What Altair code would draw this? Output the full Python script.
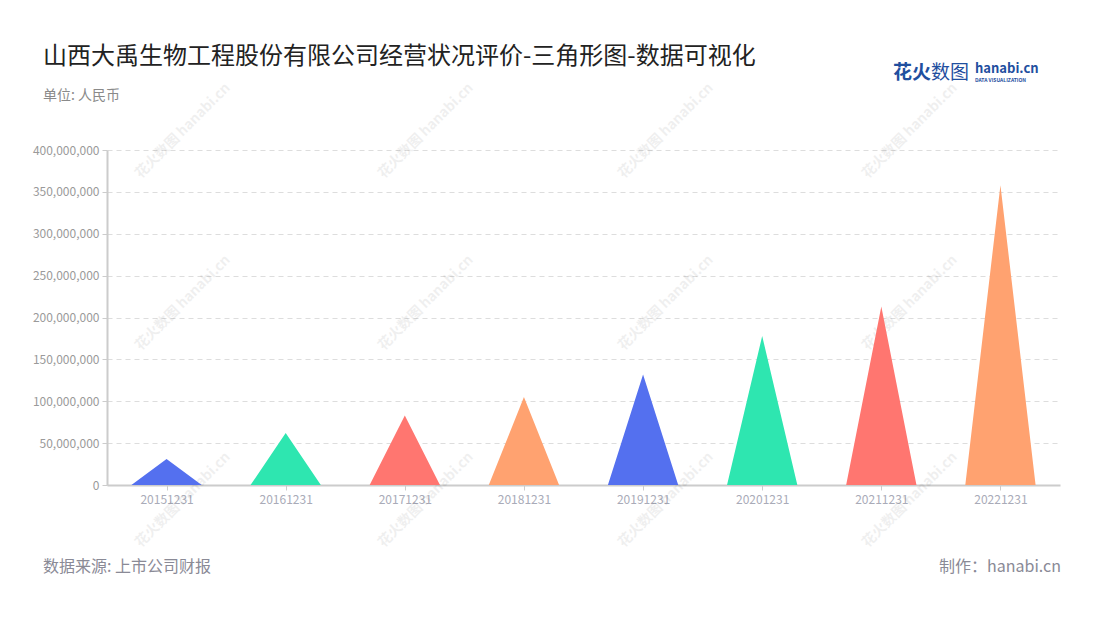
import altair as alt
import pandas as pd

# ---- data ----
dates = ["20151231", "20161231", "20171231", "20181231",
         "20191231", "20201231", "20211231", "20221231"]
values = [31_000_000, 62_000_000, 83_000_000, 105_000_000,
          132_000_000, 178_000_000, 213_000_000, 358_000_000]
palette = ["#5470ef", "#2ee6b0", "#ff7670", "#ffa270"]

title_text = "山西大禹生物工程股份有限公司经营状况评价-三角形图-数据可视化"
subtitle_text = "单位: 人民币"
source_text = "数据来源: 上市公司财报"
maker_text = "制作：hanabi.cn"

FONT = "Noto Sans CJK SC"
HALF = 0.295  # half base width of triangle, in category units

rows = []
for i, (d, v) in enumerate(zip(dates, values)):
    c = i + 0.5
    rows.append({"cat": d, "x": c - HALF, "y": 0})
    rows.append({"cat": d, "x": c, "y": v})
    rows.append({"cat": d, "x": c + HALF, "y": 0})
tri = pd.DataFrame(rows)

colors = [palette[i % len(palette)] for i in range(len(dates))]
label_expr = "[" + ",".join(f"'{d}'" for d in dates) + "][floor(datum.value)]"

W, H = 953, 335

triangles = alt.Chart(tri).mark_area(opacity=1, strokeWidth=0).encode(
    x=alt.X("x:Q",
            scale=alt.Scale(domain=[0, len(dates)], nice=False, zero=False),
            axis=alt.Axis(values=[i + 0.5 for i in range(len(dates))],
                          labelExpr=label_expr, title=None, grid=False,
                          domainColor="#cccccc", domainWidth=2,
                          tickColor="#cccccc", tickSize=5, tickWidth=1,
                          labelColor="#a9abb8", labelFontSize=12, labelFont=FONT,
                          labelPadding=4)),
    y=alt.Y("y:Q",
            scale=alt.Scale(domain=[0, 400_000_000], nice=False),
            axis=alt.Axis(values=list(range(0, 400_000_001, 50_000_000)),
                          format=",.0f", title=None, grid=True,
                          gridColor="#dddddd", gridDash=[5, 4], gridWidth=1,
                          domainColor="#cccccc", domainWidth=2,
                          tickColor="#cccccc", tickSize=5, tickWidth=1,
                          labelColor="#9a9a9a", labelFontSize=12, labelFont=FONT,
                          labelPadding=3)),
    color=alt.Color("cat:N", scale=alt.Scale(domain=dates, range=colors), legend=None),
    detail="cat:N",
)

one = pd.DataFrame({"a": [0]})

def txt(text, x, y, size, color, align="left", weight="normal", angle=0, opacity=1.0, baseline="middle"):
    kw = dict(text=text, align=align, baseline=baseline, fontSize=size, font=FONT,
              color=color, fontWeight=weight, opacity=opacity)
    if angle:
        kw["angle"] = angle
    return alt.Chart(one).mark_text(**kw).encode(x=alt.value(x), y=alt.value(y))

OX, OY = 107, 150  # plot origin on page
layers = []

# watermarks
wm_cols = [183, 426, 666, 910]
wm_rows = [131, 303, 500]
for cx in wm_cols:
    for cy in wm_rows:
        layers.append(txt("花火数图 hanabi.cn", cx - OX, cy - OY, 14, "#000000",
                          align="center", weight="bold", angle=315, opacity=0.06))

layers.append(triangles)

layers.append(txt(title_text, 43 - OX, 57 - OY, 24, "#222222"))
layers.append(txt(subtitle_text, 43 - OX, 96 - OY, 14, "#8a8a8a"))
layers.append(txt(source_text, 43 - OX, 567 - OY, 16, "#8a8a96"))
layers.append(txt(maker_text, 1061 - OX, 567 - OY, 16, "#8a8a96", align="right"))

# logo
layers.append(txt("花火", 893 - OX, 73 - OY, 19, "#1f4f9f", weight="bold"))
layers.append(txt("数图", 931 - OX, 73 - OY, 19, "#1f4f9f"))
layers.append(txt("hanabi.cn", 975 - OX, 69 - OY, 13, "#1f4f9f", weight="bold"))
layers.append(txt("DATA VISUALIZATION", 975 - OX, 80 - OY, 5, "#1f4f9f", weight="bold"))

chart = alt.layer(*layers).properties(
    width=W, height=H,
    autosize=alt.AutoSizeParams(type="none"),
    padding={"left": OX - 8, "top": OY - 8, "right": 32, "bottom": 110},
    background="white",
).configure_view(stroke=None)

chart.save("out.html", embed_options={"renderer": "svg", "actions": False})
